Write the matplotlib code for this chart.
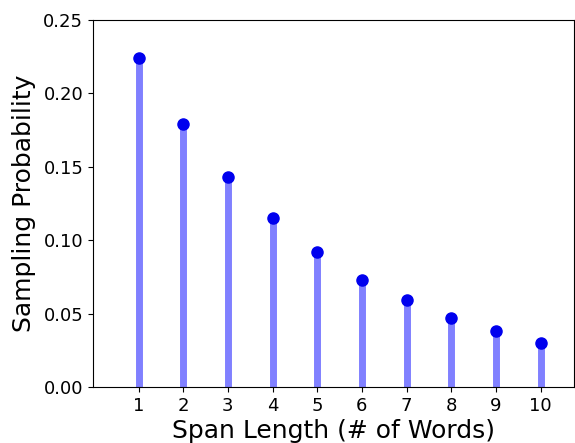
import matplotlib
matplotlib.use("Agg")
import matplotlib.pyplot as plt

span_lengths = [1, 2, 3, 4, 5, 6, 7, 8, 9, 10]
probabilities = [0.224, 0.179, 0.143, 0.115, 0.092, 0.073, 0.059, 0.047, 0.038, 0.030]

fig = plt.figure(figsize=(5.75, 4.43), dpi=100)
ax = fig.add_axes([93/575, 1-387/443, (574-93)/575, (387-20)/443])

ax.vlines(span_lengths, 0, probabilities, colors="#8080ff", linewidth=5)
ax.plot(span_lengths, probabilities, "o", color="#0000ee", markersize=8)

ax.set_xlim(-0.02, 10.75)
ax.set_ylim(0, 0.25)
ax.set_xticks(span_lengths)
ax.set_yticks([0.0, 0.05, 0.10, 0.15, 0.20, 0.25])
ax.set_yticklabels(["0.00", "0.05", "0.10", "0.15", "0.20", "0.25"])
ax.tick_params(labelsize=13)
ax.set_xlabel("Span Length (# of Words)", fontsize=18, labelpad=3)
ax.set_ylabel("Sampling Probability", fontsize=18, labelpad=5)

fig.savefig("out.png", dpi=100)
